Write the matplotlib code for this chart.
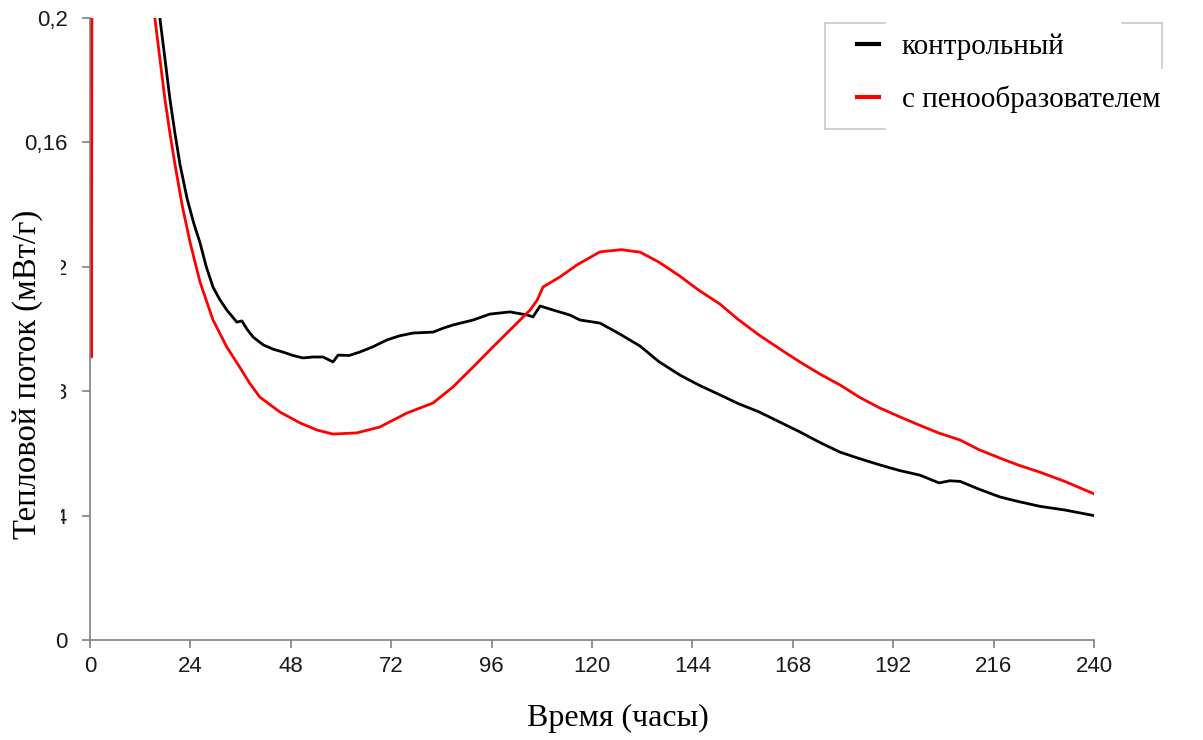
import matplotlib
matplotlib.use("Agg")
import matplotlib.pyplot as plt
from matplotlib.patches import Rectangle
from matplotlib.lines import Line2D

# Heat flow of cement paste (mW/g) over the first 240 hours of hydration
hours_control = [0.3, 5, 10, 14, 16.7, 18.0, 19.1, 20.3, 21.5, 23.2, 24.8, 26.3, 27.8, 29.4,
                 31.0, 32.7, 34.0, 35.1, 36.3, 37.5, 39.0, 41.4, 43.8, 46.1, 48.5, 50.9,
                 53.3, 55.7, 58.1, 59.3, 62.0, 64.5, 67.5, 71.0, 74.0, 77.2, 82.0, 84.5,
                 86.8, 91.6, 95.6, 100.4, 104.5, 105.9, 107.6, 110.7, 114.7, 117.1, 121.9,
                 126.5, 131.5, 136.0, 141.0, 145.5, 150.6, 155.0, 160.0, 165.0, 169.7,
                 174.5, 179.3, 184.0, 188.8, 193.5, 198.4, 203.0, 205.5, 208.0, 212.5,
                 217.5, 222.0, 227.0, 233.0, 240.0]
flow_control = [0.32, 0.33, 0.29, 0.23, 0.200, 0.186, 0.174, 0.163, 0.153, 0.142, 0.134,
                0.1277, 0.1200, 0.1135, 0.1095, 0.1061, 0.1040, 0.1022, 0.1026, 0.1000,
                0.0974, 0.0949, 0.0935, 0.0926, 0.0915, 0.0907, 0.0910, 0.0910, 0.0894,
                0.0916, 0.0915, 0.0926, 0.0942, 0.0965, 0.0978, 0.0987, 0.0990, 0.1003,
                0.1013, 0.1029, 0.1048, 0.1055, 0.1045, 0.1039, 0.1074, 0.1061, 0.1045,
                0.1029, 0.1019, 0.0985, 0.0945, 0.0895, 0.0852, 0.0820, 0.0788, 0.0760,
                0.0733, 0.0700, 0.0669, 0.0635, 0.0604, 0.0583, 0.0563, 0.0545, 0.0530,
                0.0505, 0.0512, 0.0510, 0.0485, 0.0460, 0.0445, 0.0430, 0.0418, 0.0400]

hours_foam = [0.05, 0.35, 0.65, 3, 8, 12, 15.5, 16.7, 17.9, 19.1, 20.3, 22.0, 23.9, 26.3,
              29.4, 32.7, 35.9, 38.2, 40.6, 45.4, 50.2, 54.3, 58.1, 63.8, 69.3, 75.8,
              82.0, 86.8, 91.6, 96.3, 101.1, 105.2, 106.9, 108.3, 112.3, 116.4, 121.9,
              127.0, 131.5, 136.0, 141.0, 145.5, 150.6, 155.0, 160.0, 165.0, 169.7,
              174.5, 179.3, 184.0, 188.8, 193.5, 198.4, 203.0, 208.0, 212.5, 217.5,
              222.0, 227.0, 233.0, 240.0]
flow_foam = [0.35, 0.091, 0.42, 0.45, 0.36, 0.27, 0.200, 0.187, 0.174, 0.163, 0.153, 0.140,
             0.128, 0.1151, 0.1029, 0.0942, 0.0875, 0.0825, 0.0781, 0.0733, 0.0698, 0.0675,
             0.0662, 0.0666, 0.0685, 0.0730, 0.0762, 0.0814, 0.0878, 0.0942, 0.1006,
             0.1061, 0.1093, 0.1135, 0.1167, 0.1206, 0.1248, 0.1255, 0.1247, 0.1215,
             0.1170, 0.1125, 0.1080, 0.1030, 0.0980, 0.0935, 0.0894, 0.0855, 0.0820,
             0.0780, 0.0746, 0.0718, 0.0690, 0.0665, 0.0643, 0.0612, 0.0585, 0.0562,
             0.0540, 0.0510, 0.0470]

x_ticks = [0, 24, 48, 72, 96, 120, 144, 168, 192, 216, 240]
y_ticks = [0, 0.04, 0.08, 0.12, 0.16, 0.2]
y_tick_labels = ["0", "0,04", "0,08", "0,12", "0,16", "0,2"]

legend_labels = ["контрольный", "с пенообразователем"]
x_title = "Время (часы)"
y_title = "Тепловой поток (мВт/г)"

serif = ["Liberation Serif", "DejaVu Serif"]
sans = ["Liberation Sans", "DejaVu Sans"]
W, H = 1203, 740

fig = plt.figure(figsize=(W / 100, H / 100), dpi=100)
ax = fig.add_axes([90 / W, 100 / H, 1004 / W, 622 / H])

ax.plot(hours_control, flow_control, color="black", lw=2.0, label=legend_labels[0])
ax.plot(hours_foam, flow_foam, color="#ff0000", lw=2.0, label=legend_labels[1])

ax.set_xlim(0, 240)
ax.set_ylim(0, 0.2)
ax.set_xticks(x_ticks)
ax.set_xticklabels([str(t) for t in x_ticks], fontfamily=sans, fontsize=16, color="#1a1a1a")
ax.set_yticks(y_ticks)
ax.set_yticklabels(y_tick_labels, fontfamily=sans, fontsize=16, color="#1a1a1a")

for side in ("top", "right"):
    ax.spines[side].set_visible(False)
for side in ("left", "bottom"):
    ax.spines[side].set_color("#808080")
    ax.spines[side].set_linewidth(1.2)
ax.tick_params(axis="x", direction="out", length=5.5, width=1.2, color="#808080", pad=6)
ax.tick_params(axis="y", direction="out", length=6, width=1.2, color="#808080", pad=10)

fig.text(618 / W, 1 - 718 / H, x_title, ha="center", va="center",
         fontfamily=serif, fontsize=23)

# the axis title sits on a white panel that hides most of the middle tick labels
fig.add_artist(Rectangle((0, 190 / H), 61 / W, 370 / H, transform=fig.transFigure,
                         facecolor="white", edgecolor="none", zorder=5))
fig.text(28 / W, 1 - 374 / H, y_title, rotation=90, ha="center", va="center",
         fontfamily=serif, fontsize=23.5, zorder=6)

leg = ax.legend(loc="upper left", bbox_to_anchor=(832 / W, 1 - 9 / H),
                bbox_transform=fig.transFigure, frameon=False,
                prop={"family": serif, "size": 21},
                handlelength=0.75, handletextpad=0.8, borderpad=0.35, labelspacing=0.86)
for line in leg.get_lines():
    line.set_linewidth(3)

# partial legend border: the label panel hides the middle of it
fig.canvas.draw()
t1, t2 = [t.get_window_extent() for t in leg.get_texts()]
x0 = t1.x0 - 77
x1 = t2.x1 + 1
y1 = (t1.y0 + t1.y1) / 2 + 24
y0 = (t2.y0 + t2.y1) / 2 - 30
segments = [((x0, x0), (y0, y1)),
            ((x0, x0 + 60), (y1, y1)),
            ((x1 - 40, x1), (y1, y1)),
            ((x1, x1), (y1, y1 - 45)),
            ((x0, x0 + 60), (y0, y0))]
for xs, ys in segments:
    fig.add_artist(Line2D([v / W for v in xs], [v / H for v in ys], transform=fig.transFigure,
                          color="#c8c8c8", lw=1.2))

fig.savefig("out.png", dpi=100, facecolor="white")
